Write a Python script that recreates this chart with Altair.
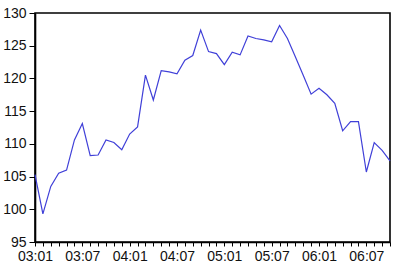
import altair as alt
import pandas as pd

# Monthly periods 2003:01 .. 2006:10
years = [2003, 2004, 2005, 2006]
periods = [f"{str(y)[2:]}:{m:02d}" for y in years for m in range(1, 13)][:46]

values = [
    105.3, 99.3, 103.5, 105.5, 106.0, 110.6, 113.1, 108.2, 108.3, 110.6,
    110.2, 109.1, 111.5, 112.6, 120.5, 116.7, 121.2, 121.0, 120.7, 122.8,
    123.5, 127.4, 124.1, 123.8, 122.1, 124.0, 123.6, 126.5, 126.1, 125.9,
    125.6, 128.1, 126.1, 123.3, 120.5, 117.6, 118.5, 117.5, 116.2, 112.0,
    113.4, 113.4, 105.7, 110.2, 109.0, 107.4,
]

tick_labels = ["03:01", "03:07", "04:01", "04:07", "05:01", "05:07", "06:01", "06:07"]
y_ticks = [95, 100, 105, 110, 115, 120, 125, 130]

df = pd.DataFrame({"idx": list(range(len(values))), "period": periods, "value": values})

label_map = {i: p for i, p in enumerate(periods) if p in tick_labels}
label_expr = "{" + ",".join(f"'{k}':'{v}'" for k, v in label_map.items()) + "}"

chart = alt.Chart(df).mark_line(color="#4040d8", strokeWidth=1.2).encode(
    x=alt.X(
        "idx:Q",
        scale=alt.Scale(domain=[0, len(values) - 1], nice=False, zero=False),
        axis=alt.Axis(
            title=None,
            values=list(range(len(values))),
            labelExpr=f"({label_expr})[datum.value] || ''",
            labelOverlap=False,
            labelFlush=False,
            tickSize=4,
            labelPadding=3,
            grid=False,
            labelFontSize=14,
        ),
    ),
    y=alt.Y(
        "value:Q",
        scale=alt.Scale(domain=[95, 130], nice=False, zero=False),
        axis=alt.Axis(
            title=None,
            values=y_ticks,
            tickSize=6,
            labelPadding=3,
            labelFlush=False,
            grid=False,
            labelFontSize=14,
        ),
    ),
).properties(
    width=355,
    height=229,
    background="white",
    autosize=alt.AutoSizeParams(type="none"),
    padding={"left": 35, "top": 13, "right": 9, "bottom": 23},
).configure_view(
    stroke="black", strokeWidth=1.6
).configure_axis(
    domainColor="black",
    domainWidth=1.6,
    tickColor="black",
    tickWidth=1,
    labelColor="#111111",
    labelFont="Liberation Sans",
)

chart.save("out.html", embed_options={"renderer": "svg", "actions": False})
